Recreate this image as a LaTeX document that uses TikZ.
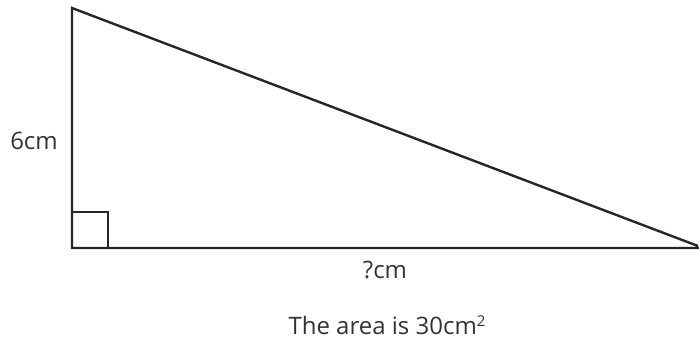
\documentclass[tikz,border=0pt]{standalone}
\usepackage{fontspec}
\setmainfont{Open Sans}
\begin{document}
\begin{tikzpicture}[x=1pt,y=-1pt,
  edge/.style={line width=2.4pt,draw=black!85,line join=miter},
  lbl/.style={text=black!80,font=\fontsize{24}{28}\selectfont,inner sep=0pt}]
\useasboundingbox (0,0) rectangle (699,341);
\coordinate (A) at (72,8);
\coordinate (B) at (72,248);
\coordinate (C) at (698,246);
\draw[line width=1.6pt,draw=black!85] (72,212) -- (108,212) -- (108,248);
\draw[edge] (C) -- (A) -- (B) -- (699,248);
\node[lbl] (h) at (34,141) {6cm};
\node[lbl] (b) at (385,270) {?cm};
\node[lbl] (area) at (387,325) {The area is 30cm{\fontsize{15}{18}\selectfont\raisebox{0.55em}{2}}};
\end{tikzpicture}
\end{document}
